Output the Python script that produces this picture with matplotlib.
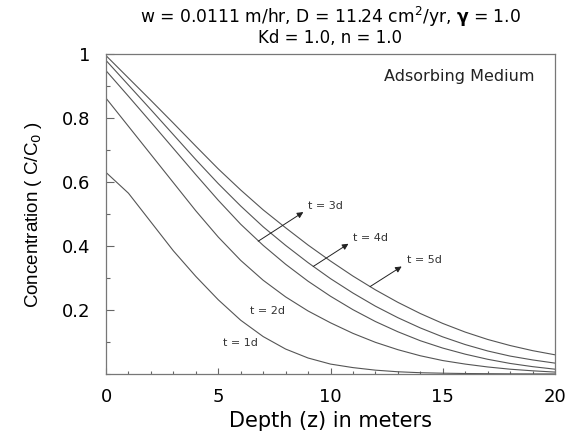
"""Concentration profiles in an adsorbing medium."""
import matplotlib
matplotlib.use("Agg")
import matplotlib.pyplot as plt
from matplotlib.ticker import MultipleLocator

# depth (m) and C/C0, one list per time
depth = list(range(21))
c_1d = [0.63, 0.565, 0.475, 0.385, 0.305, 0.232, 0.168, 0.117, 0.078, 0.05, 0.031,
        0.02, 0.012, 0.007, 0.004, 0.0025, 0.0015, 0.001, 0.0005, 0.0003, 0.0002]
c_2d = [0.862, 0.774, 0.686, 0.598, 0.51, 0.428, 0.355, 0.293, 0.241, 0.197, 0.16,
        0.127, 0.099, 0.076, 0.057, 0.042, 0.031, 0.022, 0.015, 0.010, 0.006]
c_3d = [0.948, 0.868, 0.787, 0.705, 0.623, 0.543, 0.468, 0.402, 0.343, 0.29, 0.243,
        0.201, 0.164, 0.132, 0.104, 0.081, 0.062, 0.046, 0.033, 0.023, 0.015]
c_4d = [0.98, 0.903, 0.826, 0.748, 0.67, 0.595, 0.525, 0.46, 0.402, 0.348, 0.298,
        0.253, 0.212, 0.176, 0.144, 0.116, 0.092, 0.072, 0.056, 0.044, 0.034]
c_5d = [0.995, 0.925, 0.855, 0.784, 0.712, 0.641, 0.575, 0.513, 0.457, 0.403, 0.353,
        0.306, 0.263, 0.224, 0.189, 0.158, 0.131, 0.108, 0.089, 0.073, 0.06]

curves = [c_1d, c_2d, c_3d, c_4d, c_5d]

# labels without arrows: (text, z, C)
plain_labels = [("t = 1d", 5.2, 0.098), ("t = 2d", 6.4, 0.197)]
# labels with arrows: (text, base z, base C, tip z, tip C, text z, text C)
arrow_labels = [
    ("t = 3d", 6.78, 0.415, 8.79, 0.506, 9.0, 0.526),
    ("t = 4d", 9.23, 0.336, 10.80, 0.407, 11.0, 0.426),
    ("t = 5d", 11.76, 0.273, 13.17, 0.336, 13.4, 0.355),
]

LINE = "#555555"
plt.rcParams["font.family"] = ["DejaVu Sans"]

fig = plt.figure(figsize=(5.76, 4.36), dpi=100)
ax = fig.add_axes([106 / 576, 1 - 374 / 436, 449 / 576, 320 / 436])

for c in curves:
    ax.plot(depth, c, color=LINE, lw=0.8)

for txt, z, c in plain_labels:
    ax.text(z, c, txt, fontsize=8, color="#333333", va="center", ha="left")

for txt, bz, bc, tz, tc, lz, lc in arrow_labels:
    ax.annotate("", xy=(tz, tc), xytext=(bz, bc),
                arrowprops=dict(arrowstyle="-|>", color="#222222", lw=0.7,
                                mutation_scale=9, shrinkA=0, shrinkB=0))
    ax.text(lz, lc, txt, fontsize=8, color="#333333", va="center", ha="left")

ax.text(0.954, 0.93, "Adsorbing Medium", transform=ax.transAxes,
        fontsize=11.5, ha="right", va="center", color="#222222")

ax.set_xlim(0, 20)
ax.set_ylim(0, 1)
ax.set_xticks([0, 5, 10, 15, 20])
ax.xaxis.set_minor_locator(MultipleLocator(1))
ax.set_yticks([0.2, 0.4, 0.6, 0.8, 1.0])
ax.set_yticklabels(["0.2", "0.4", "0.6", "0.8", "1"])
ax.yaxis.set_minor_locator(MultipleLocator(0.1))

ax.tick_params(axis="both", which="both", direction="in", color="#666666",
               labelsize=13, width=0.8)
ax.tick_params(axis="x", which="major", length=4, pad=10)
ax.tick_params(axis="x", which="minor", length=2)
ax.tick_params(axis="y", which="major", length=6, pad=11)
ax.tick_params(axis="y", which="minor", length=3)
for s in ax.spines.values():
    s.set_color("#777777")
    s.set_linewidth(0.9)

ax.set_xlabel("Depth (z) in meters", fontsize=15, labelpad=4)
ax.set_ylabel("Concentration ( C/C$_0$ )", fontsize=13.5,
              family=["Liberation Sans"], labelpad=13)

xc = (106 + 555) / 2 / 576
fig.text(xc, 1 - 17 / 436,
         r"w = 0.0111 m/hr, D = 11.24 cm$^2$/yr, $\mathbf{\gamma}$ = 1.0",
         ha="center", va="center", fontsize=12.3)
fig.text(xc, 1 - 38 / 436, "Kd = 1.0, n = 1.0",
         ha="center", va="center", fontsize=12)

fig.savefig("out.png", dpi=100)
plt.close(fig)
